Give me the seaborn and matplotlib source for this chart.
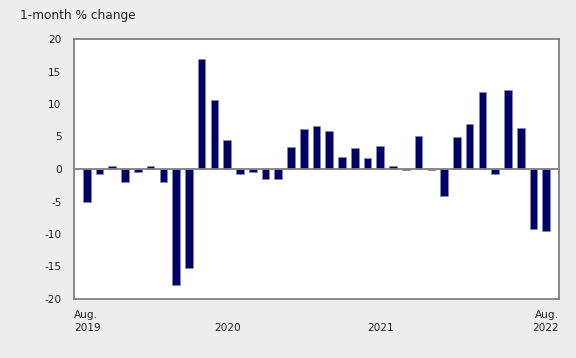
import matplotlib
matplotlib.use("Agg")
import matplotlib.pyplot as plt
import seaborn as sns
import pandas as pd

months = ["Aug 2019", "Sep 2019", "Oct 2019", "Nov 2019", "Dec 2019",
          "Jan 2020", "Feb 2020", "Mar 2020", "Apr 2020", "May 2020", "Jun 2020",
          "Jul 2020", "Aug 2020", "Sep 2020", "Oct 2020", "Nov 2020", "Dec 2020",
          "Jan 2021", "Feb 2021", "Mar 2021", "Apr 2021", "May 2021", "Jun 2021",
          "Jul 2021", "Aug 2021", "Sep 2021", "Oct 2021", "Nov 2021", "Dec 2021",
          "Jan 2022", "Feb 2022", "Mar 2022", "Apr 2022", "May 2022", "Jun 2022",
          "Jul 2022", "Aug 2022"]
change = [-5.0, -0.8, 0.5, -2.0, -0.5,
          0.5, -2.0, -17.8, -15.2, 17.0, 10.6,
          4.5, -0.8, -0.5, -1.5, -1.5, 3.4,
          6.2, 6.6, 5.9, 1.9, 3.3, 1.7,
          3.6, 0.5, -0.2, 5.1, -0.2, -4.1,
          4.9, 7.0, 11.9, -0.8, 12.1, 6.3,
          -9.3, -9.6]
yticks = [-20, -15, -10, -5, 0, 5, 10, 15, 20]
xtick_labels = ["Aug.\n2019", "\n2020", "\n2021", "Aug.\n2022"]
xtick_months = ["Aug 2019", "Jul 2020", "Jul 2021", "Aug 2022"]
title = "1-month % change"

df = pd.DataFrame({"month": months, "change": change})

sns.set_theme(style="white")
plt.rcParams["font.family"] = ["DejaVu Sans"]

bg = "#ededed"
frame = "#7f7f7f"
fig = plt.figure(figsize=(5.76, 3.58), dpi=100, facecolor=bg)
ax = fig.add_axes([74/576, 1-299/358, (559-74)/576, (299-39)/358])
ax.set_facecolor("white")

sns.barplot(data=df, x="month", y="change", order=months, color="#000066",
            saturation=1, width=0.6, edgecolor="#8a8aa8", linewidth=0.5, ax=ax)

ax.axhline(0, color=frame, lw=1.3, zorder=3)
ax.set_ylim(-20, 20)
ax.set_xlim(-1, len(months))
ax.set_yticks(yticks)
ax.set_yticklabels([str(t) for t in yticks], fontsize=7.6, color="#222222")
ax.tick_params(axis="y", length=0, pad=9)

pos = []
for m in xtick_months:
    i = months.index(m)
    if i == 0:
        pos.append(-1)
    elif i == len(months) - 1:
        pos.append(len(months))
    else:
        pos.append(i)
ax.set_xticks(pos)
labels = ax.set_xticklabels(xtick_labels, fontsize=7.6, color="#222222", linespacing=1.35)
labels[0].set_ha("left")
labels[-1].set_ha("right")
ax.tick_params(axis="x", length=0, pad=8)
ax.set_xlabel("")
ax.set_ylabel("")

for s in ax.spines.values():
    s.set_visible(True)
    s.set_color(frame)
    s.set_linewidth(1.3)

fig.text(20/576, 1-15/358, title, fontsize=8.7, va="center", ha="left", color="#222222")

fig.savefig("out.png", dpi=100, facecolor=bg)
